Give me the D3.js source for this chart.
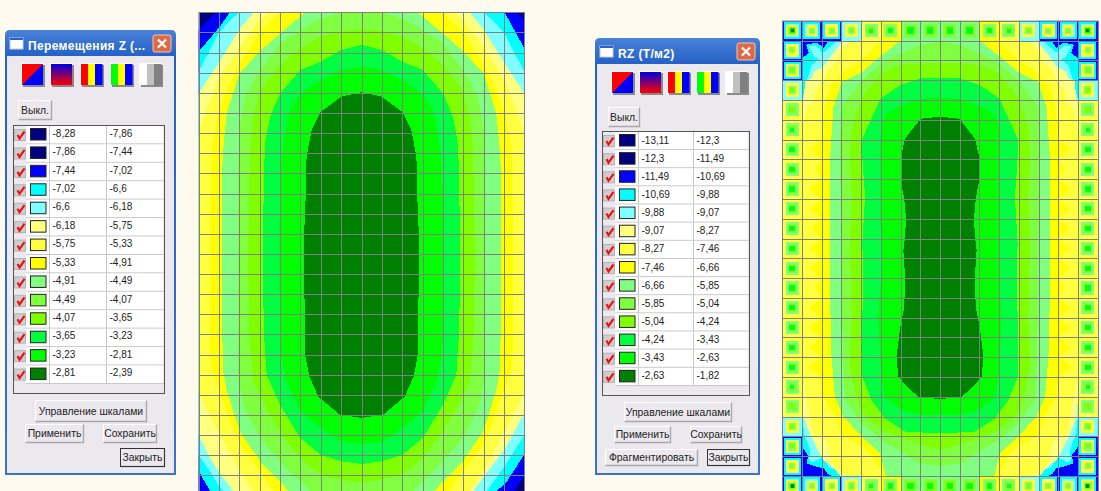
<!DOCTYPE html>
<html>
<head>
<meta charset="utf-8">
<script src="https://cdn.jsdelivr.net/npm/d3@7"></script>
<style>
  html, body { margin: 0; padding: 0; background: #fffaee; overflow: hidden; }
  svg { display: block; }
  text { font-family: "Liberation Sans", Arial, sans-serif; }
</style>
</head>
<body>
<div id="chart-area"></div>
<script>
// legend colours, level 1 (lowest) to level 14 (highest)
const levelColours = ["#000080", "#000080", "#0000ff", "#00ffff", "#80ffff", "#ffff80", "#ffff40",
                      "#ffff00", "#80ff80", "#80ff40", "#80ff00", "#00ff40", "#00ff00", "#008000"];

const zFrom = ["-8,28", "-7,86", "-7,44", "-7,02", "-6,6", "-6,18", "-5,75", "-5,33", "-4,91", "-4,49", "-4,07", "-3,65", "-3,23", "-2,81"];
const zTo   = ["-7,86", "-7,44", "-7,02", "-6,6", "-6,18", "-5,75", "-5,33", "-4,91", "-4,49", "-4,07", "-3,65", "-3,23", "-2,81", "-2,39"];
const rzFrom = ["-13,11", "-12,3", "-11,49", "-10,69", "-9,88", "-9,07", "-8,27", "-7,46", "-6,66", "-5,85", "-5,04", "-4,24", "-3,43", "-2,63"];
const rzTo   = ["-12,3", "-11,49", "-10,69", "-9,88", "-9,07", "-8,27", "-7,46", "-6,66", "-5,85", "-5,04", "-4,24", "-3,43", "-2,63", "-1,82"];

// left half of each contour, in plate cells [col, row], mirrored over col 8 when drawn
const zLevels = [3, 4, 5, 6, 7, 8, 9, 10, 11, 12, 13, 14];
const zOutlines = [
  [[8,-1],[1.7,-1],[.85,0],[0,.85],[-1,1.7],[-1,23],[0,24.2],[.6,25],[8,26]],
  [[8,-1],[2.5,-1],[1.54,0],[.97,.8],[0,1.95],[-1,3],[-1,21.8],[0,22.8],[.56,23.77],[1,25],[8,26]],
  [[8,-1],[3,-1],[2,0],[1.54,.4],[.97,1.04],[0,2.95],[-1,4.5],[-1,21],[0,22],[.56,22.8],[.97,23.5],[1.21,23.77],[2,25],[8,26]],
  [[8,-1],[3.7,-1],[2.69,0],[2.03,.8],[.97,2.53],[0,4.02],[-1,5.5],[-1,20],[0,21],[.56,22.15],[.97,22.8],[1.7,23.77],[2.5,25],[8,26]],
  [[8,-1],[3.9,-.5],[3.43,0],[2.98,.4],[2.03,1.7],[.97,3.36],[.39,4.85],[0,5.93],[-.5,6.5],[-.5,18.4],[0,18.9],[.56,20],[.97,20.83],[2.03,22.8],[2.69,23.77],[3.5,25],[8,26]],
  [[8,-1],[4.6,-1],[4.03,0],[3.02,.96],[2.03,2.53],[1.38,3.86],[.97,5],[.69,6.4],[.59,7.67],[.56,12],[.56,16.7],[.64,17.7],[.97,18.7],[1.54,20.3],[2.03,21.5],[3.02,22.8],[3.67,23.77],[4.5,25],[8,26]],
  [[8,-1],[5.8,-1],[5.23,0],[4,1.05],[3,1.95],[2,3.03],[1.38,5],[1.23,6.5],[1.16,7.7],[1.16,16],[1.21,17.85],[1.38,18.8],[2.03,20.83],[3.02,22.3],[4,23.3],[4.41,23.77],[5.3,25],[8,26]],
  [[8,-.2],[7,0],[6,.3],[5,.88],[4,1.54],[3.02,2.86],[2.28,4.19],[2,5.68],[1.95,7.17],[1.95,12],[1.95,18.18],[2.2,19.5],[3.02,21.16],[4,22.3],[5,23.3],[5.5,23.8],[6.5,24.5],[8,24.6]],
  [[8,.84],[7,.93],[6,1.21],[5,1.79],[4,2.62],[3.02,3.86],[2.69,5.18],[2.52,6.84],[2.49,8.33],[2.44,11.56],[2.44,13],[2.49,16],[2.69,18.35],[3.51,20],[4,20.83],[5,22.15],[6,22.98],[7,23.2],[8,23.35]],
  [[8,1.62],[7,1.87],[6,2.45],[5,2.86],[4,4.02],[3.51,5.18],[3.26,6.5],[3.21,8],[3.15,11.56],[3.15,13],[3.21,16],[3.34,18],[4,19.5],[5,21.16],[6,21.98],[7,22.3],[8,22.43]],
  [[8,2.7],[7,2.86],[6,3.36],[5,4.02],[4.49,4.85],[4.25,6.01],[4.1,7],[4.03,8.33],[3.95,11],[3.95,13],[4.03,17],[4.25,18.18],[5,19.83],[6,20.66],[7,21.33],[8,21.44]],
  [[8,3.97],[7,4.19],[6,4.94],[5.55,5.85],[5.3,7.17],[5.28,8.33],[5.23,9.99],[5.15,11.56],[5.15,13],[5.23,15],[5.23,17],[5.44,18.1],[5.88,19.1],[6.95,20],[8,20.14]]
];
// corners of the Z plate that are not mirror images of the left side
const zPatchLevels = [4, 3, 1, 5, 4, 3, 1];
const zPatches = [
  [[14.46,0],[15.03,.8],[16,1.95],[17,2],[17,-1],[14.46,-1]],
  [[15.03,0],[16,1.79],[17,2],[17,-1],[15.03,-1]],
  [[15.65,0],[16,.4],[17,.4],[17,-1],[15.65,-1]],
  [[16,19.92],[15.07,21.65],[13.5,23.77],[13,25],[17,25],[17,19.92]],
  [[16,21],[15.07,22.5],[14.16,23.77],[14,25],[17,25],[17,21]],
  [[16,21.96],[15.15,23.3],[14.66,23.77],[14.5,25],[17,25],[17,21.96]],
  [[16,23],[15.5,23.77],[15.2,25],[17,25],[17,23]]
];

const rzLevels = [4, 5, 6, 7, 8, 9, 10, 11, 12, 13, 14];
const rzOutlines = [
  [[8,-1],[2.36,-1],[2.36,1],[2.1,1.38],[1.76,1.1],[1.2,1.21],[1.34,1.63],[1.03,1.88],[.5,2],[-1,2],[-1,21.5],[1,21.5],[1.3,21.94],[1.25,22.36],[1.85,22.56],[2.1,22.6],[2.27,22.86],[2.52,23],[2.52,25],[8,26]],
  [[8,-1],[2.78,-1],[2.78,1],[2.18,1.55],[2.01,1.58],[1.68,1.24],[1.34,1.29],[1.59,1.8],[1.85,1.97],[1.51,2.22],[1.25,2.98],[1.03,3.9],[-1,3.9],[-1,20],[1,20],[1.12,20.9],[1.3,21.4],[1.42,21.77],[1.34,22.19],[1.55,22.3],[2,22.05],[2.1,22.1],[2.35,22.55],[2.9,22.75],[3.1,23],[3.1,25],[8,26]],
  [[8,-1],[3.1,-1],[3.1,1],[2.52,1.72],[2.01,2.39],[1.59,2.56],[1.51,2.9],[1.17,3.06],[1.08,3.9],[1,4.07],[-1,4.07],[-1,19],[1,19],[1.07,20],[1.42,20.93],[1.68,21.43],[1.93,21.94],[2.1,22.2],[2.52,22.5],[2.95,23],[3,25],[8,26]],
  [[8,-1],[3.54,-1],[3.54,1],[2.95,1.55],[2.78,2.05],[2.27,2.56],[2.1,2.98],[1.68,3.57],[1.51,4.16],[1.25,4.4],[1.1,5],[1,5.9],[-1,5.9],[-1,18],[1,18],[1.32,19.5],[1.57,20.93],[2.08,20.93],[2.42,21.68],[2.5,22.36],[3,22.86],[3.43,23],[3.6,25],[8,26]],
  [[8,-1],[5.4,-1],[5.4,0],[5,.98],[4.03,2],[3.01,2.65],[2.5,3.2],[2.2,4.1],[2,5.35],[2,6],[1.4,6.5],[2,7],[1.7,7.5],[2,8],[1.35,8.5],[2,9],[1.4,9.5],[2,10],[1.45,10.5],[2,11],[1.4,11.5],[2,12],[1.4,12.5],[2,13],[1.7,13.5],[2,14],[1.35,14.5],[2,15],[1.35,15.5],[2,16],[1.35,16.5],[2,17],[1.3,17.5],[2,18],[2.08,18.99],[2.59,19.83],[3,20.9],[4.03,21.5],[4.53,22],[5.04,22.86],[5.3,24],[5.3,25],[8,26]],
  [[8,-1],[6.5,-1],[6.5,.5],[6,.98],[5,1.8],[4.03,2.6],[3.01,3.1],[2.6,4.34],[2.42,6.95],[2.42,11],[2.42,13],[2.47,16.6],[2.67,18.99],[3.1,20],[4.03,21],[4.96,21.85],[5.21,22.86],[5.3,23.2],[5.4,25],[8,26]],
  [[8,1.06],[7.02,1.23],[6,1.65],[5,2.15],[4.03,3],[3.01,4.34],[2.93,6.2],[2.96,8.89],[3.01,11.25],[3.01,13.94],[3.1,17.47],[3.18,19.16],[4.03,20.33],[5.04,21.18],[5.89,21.68],[6.9,22.36],[8,22.5]],
  [[8,2.15],[7.02,2.15],[6,2.24],[5,2.66],[4.03,3.92],[3.52,5.35],[3.43,6.95],[3.52,8.89],[3.43,11.25],[3.52,14.95],[3.43,17.47],[3.77,18.99],[4.03,19.83],[5.04,20.67],[6.06,21.09],[8,21.68]],
  [[8,2.91],[7.02,2.91],[6,3.25],[5,3.92],[4.53,4.93],[4.06,5.94],[4.06,6.95],[4.2,8.9],[4.06,11.25],[4.11,13.27],[4.03,15.96],[4.06,17.98],[4.53,19.16],[5.21,20.08],[6.23,20.76],[8,20.84]],
  [[8,3.87],[7.02,3.95],[6,4.3],[5.3,4.7],[5,5.3],[4.95,7],[4.95,9],[5,11.2],[5,13],[4.87,15],[5,17.8],[5.2,19],[6.05,19.66],[7.02,19.9],[8,19.9]],
  [[8,4.85],[7.02,4.95],[6.23,5.94],[6,6.95],[6,7.96],[6.19,9.06],[6.28,10.07],[6.19,11.25],[6.14,11.58],[6.23,12.93],[6.19,14.44],[6.02,15.28],[5.92,15.96],[5.8,16.97],[5.88,17.98],[6.4,18.57],[6.9,18.99],[8,19.12]]
];

// concentric squares in the edge cells of the RZ plate, outside to centre
const rzTopRings = [
  [3,4,5,7,8,9,11,13,14], [3,4,5,7,8,9,10], [3,4,6,7,8,9,10], [5,7,8,9,10,11],
  [7,9,10,11,12], [8,9,10,11,12,13], [9,10,11,12,13], [9,10,11,12,13]
];
const rzSideRings = [
  [3,4,5,7,8,9,11,13,14], [3,4,6,7,8,9,10], [3,4,6,8,9,10,11], [5,7,8,9,10,11],
  [7,9,10,11], [7,9,10,11,12], [7,9,10,11,12,13], [7,9,10,11,12,13],
  [7,9,10,11,12,13], [7,9,10,11,12,13], [7,9,10,11,12,13], [7,9,10,11,12,13]
];

const width = 1101, height = 491;
const svg = d3.select("#chart-area").append("svg")
  .attr("width", width).attr("height", height);

const line = d3.line();
const mirror = pts => pts.concat(pts.slice().reverse().map(p => [16 - p[0], p[1]]));

function plate(id, x0, x1, y0, y1) {
  const x = d3.scaleLinear().domain([0, 16]).range([x0, x1]);
  const y = d3.scaleLinear().domain([0, 24]).range([y0, y1]);
  svg.append("clipPath").attr("id", id).append("rect")
    .attr("x", x0).attr("y", y0).attr("width", x1 - x0).attr("height", y1 - y0);
  const g = svg.append("g").attr("clip-path", `url(#${id})`);
  line.x(d => x(d[0])).y(d => y(d[1]));
  return {x, y, g, path: pts => line(pts) + "Z"};
}

function grid(p) {
  svg.append("g").selectAll("line").data(d3.range(17)).join("line")
    .attr("x1", d => Math.round(p.x(d)) + .5).attr("x2", d => Math.round(p.x(d)) + .5)
    .attr("y1", p.y(0)).attr("y2", height)
    .attr("stroke", "#808080");
  svg.append("g").selectAll("line").data(d3.range(25)).join("line")
    .attr("y1", d => Math.round(p.y(d)) + .5).attr("y2", d => Math.round(p.y(d)) + .5)
    .attr("x1", p.x(0)).attr("x2", p.x(16))
    .attr("stroke", "#808080");
}

// Z plate
const zp = plate("clip-z", 198.7, 524.3, 12.3, 495.5);
zp.g.append("rect").attr("x", 190).attr("y", 0).attr("width", 345).attr("height", 500)
  .attr("fill", levelColours[0]);
zp.g.selectAll(".band").data(zOutlines).join("path").attr("class", "band")
  .attr("d", d => zp.path(mirror(d)))
  .attr("fill", (d, i) => levelColours[zLevels[i] - 1])
  .attr("shape-rendering", "crispEdges");
zp.g.append("g").selectAll("path").data(zPatches).join("path")
  .attr("d", d => zp.path(d))
  .attr("fill", (d, i) => levelColours[zPatchLevels[i] - 1])
  .attr("shape-rendering", "crispEdges");
grid(zp);

// RZ plate
const rp = plate("clip-rz", 782.3, 1097.7, 20.7, 495.9);
rp.g.append("rect").attr("x", 775).attr("y", 0).attr("width", 330).attr("height", 500)
  .attr("fill", levelColours[2]);
rp.g.selectAll(".band").data(rzOutlines).join("path").attr("class", "band")
  .attr("d", d => rp.path(mirror(d)))
  .attr("fill", (d, i) => levelColours[rzLevels[i] - 1])
  .attr("shape-rendering", "crispEdges");

const edgeCells = [];
d3.range(16).forEach(c => {
  const rings = rzTopRings[c < 8 ? c : 15 - c];
  edgeCells.push({c, r: 0, rings}, {c, r: 23, rings});
});
d3.range(1, 23).forEach(r => {
  const rings = rzSideRings[r < 12 ? r : 23 - r];
  edgeCells.push({c: 0, r, rings}, {c: 15, r, rings});
});
// the second ring is wider than the inner ones
function ringInset(i, n) {
  if (i === 0) return 0;
  const first = n >= 7 ? .07 : .17;
  if (i === 1) return first;
  return first + .1 + (i - 2) * (.46 - first - .1) / Math.max(n - 2, 1);
}
rp.g.selectAll(".cell").data(edgeCells).join("g").attr("class", "cell")
  .selectAll("rect").data(d => d.rings.map((lv, i) => ({lv, c: d.c, r: d.r, inset: ringInset(i, d.rings.length)})))
  .join("rect")
    .attr("x", d => rp.x(d.c + d.inset))
    .attr("y", d => rp.y(d.r + d.inset))
    .attr("width", d => rp.x(d.c + 1 - d.inset) - rp.x(d.c + d.inset))
    .attr("height", d => rp.y(d.r + 1 - d.inset) - rp.y(d.r + d.inset))
    .attr("fill", d => levelColours[d.lv - 1])
    .attr("shape-rendering", "crispEdges");
grid(rp);

// dialog windows
function button(g, x0, y0, x1, y1, label, isDefault) {
  const b = g.append("g").attr("transform", `translate(${x0},${y0})`);
  const w = x1 - x0, h = y1 - y0;
  b.append("rect").attr("width", w).attr("height", h).attr("fill", "#ebe9ed").attr("shape-rendering", "crispEdges");
  b.append("path").attr("d", `M.5 ${h - .5}V.5H${w - .5}`).attr("fill", "none").attr("stroke", "#fff");
  b.append("path").attr("d", `M.5 ${h - .5}H${w - .5}V.5`).attr("fill", "none").attr("stroke", "#a9a8ac").attr("stroke-width", 1.4);
  if (isDefault) b.append("rect").attr("x", .5).attr("y", .5).attr("width", w - 1).attr("height", h - 1)
    .attr("fill", "none").attr("stroke", "#333");
  if (label) b.append("text").attr("x", w / 2).attr("y", h / 2 + 3.5).attr("text-anchor", "middle")
    .attr("font-size", 10.4).attr("fill", "#222").text(label);
  return b;
}

function toolIcon(g, x0, y0, kind) {
  const s = 21, b = g.append("g").attr("transform", `translate(${x0},${y0})`);
  b.append("rect").attr("x", -1).attr("y", -1).attr("width", s + 2).attr("height", s + 2).attr("fill", "#fff");
  b.append("rect").attr("x", 1).attr("y", 1).attr("width", s + 1).attr("height", s + 1).attr("fill", "#8a8a8a");
  if (kind === 0) {
    b.append("rect").attr("width", s).attr("height", s).attr("fill", "#0000ff");
    b.append("path").attr("d", `M0 0H${s}L0 ${s}Z`).attr("fill", "#ff0000");
  } else if (kind === 1) {
    b.append("rect").attr("width", s).attr("height", s).attr("fill", "url(#blue-red)");
  } else {
    const stripes = {2: ["#ff0000", "#ffff00", "#0000ff"], 3: ["#00ff00", "#ffff00", "#0000ff"], 4: ["#ffffff", "#c0c0c0", "#808080"]}[kind];
    b.selectAll(".s").data(stripes).join("rect").attr("class", "s")
      .attr("x", (d, i) => i * s / 3).attr("width", s / 3 + .5).attr("height", s).attr("fill", d => d);
  }
}

const defs = svg.append("defs");
const grad = defs.append("linearGradient").attr("id", "blue-red").attr("x1", 0).attr("x2", 0).attr("y1", 0).attr("y2", 1);
grad.append("stop").attr("offset", "0%").attr("stop-color", "#0000e0");
grad.append("stop").attr("offset", "100%").attr("stop-color", "#ff0000");
const titleGrad = defs.append("linearGradient").attr("id", "title-bar").attr("x1", 0).attr("x2", 0).attr("y1", 0).attr("y2", 1);
titleGrad.append("stop").attr("offset", "0%").attr("stop-color", "#4a82d8");
titleGrad.append("stop").attr("offset", "6%").attr("stop-color", "#2460c6");
titleGrad.append("stop").attr("offset", "100%").attr("stop-color", "#3a72d0");

function dialog(o) {
  const g = svg.append("g");
  g.append("path")
    .attr("d", `M${o.x0} ${o.y1}V${o.y0 + 5}Q${o.x0} ${o.y0} ${o.x0 + 5} ${o.y0}H${o.x1 - 5}Q${o.x1} ${o.y0} ${o.x1} ${o.y0 + 5}V${o.y1}Z`)
    .attr("fill", "url(#title-bar)");
  g.append("rect").attr("x", o.x0 + 2).attr("y", o.y0 + 26).attr("width", o.x1 - o.x0 - 4).attr("height", o.y1 - o.y0 - 28)
    .attr("fill", "#ebe9ed").attr("shape-rendering", "crispEdges");

  // title bar
  g.append("rect").attr("x", o.x0 + 5).attr("y", o.y0 + 8).attr("width", 13).attr("height", 11).attr("fill", "#fff").attr("stroke", "#bcd0ee");
  g.append("rect").attr("x", o.x0 + 5).attr("y", o.y0 + 8).attr("width", 13).attr("height", 2).attr("fill", "#2a62c6");
  g.append("text").attr("x", o.titleX).attr("y", o.y0 + 19.5).attr("fill", "#fff")
    .attr("font-size", 12).attr("font-weight", "bold").attr("letter-spacing", o.titleSpacing).text(o.title);
  const cx = o.x1 - 14, cy = o.y0 + 14;
  g.append("rect").attr("x", cx - 9).attr("y", cy - 9).attr("width", 18).attr("height", 17).attr("rx", 2)
    .attr("fill", "#dd6a45").attr("stroke", "#f0c8b8");
  g.append("path").attr("d", `M${cx - 4} ${cy - 4.5}L${cx + 4} ${cy + 3.5}M${cx + 4} ${cy - 4.5}L${cx - 4} ${cy + 3.5}`)
    .attr("stroke", "#fff").attr("stroke-width", 2.2);

  o.iconX.forEach((x, i) => toolIcon(g, x, o.iconY, i));
  button(g, o.offBtn[0], o.offBtn[1], o.offBtn[2], o.offBtn[3], "Выкл.");

  // level table
  const t = o.table;
  g.append("rect").attr("x", t.x0 + .5).attr("y", t.y0 + .5).attr("width", t.x1 - t.x0).attr("height", t.y1 - t.y0)
    .attr("fill", "#ebe9ed").attr("stroke", "#555");
  const rowY = d3.scaleLinear().domain([0, 14]).range([t.y0 + 1, t.rowsEnd]);
  const rows = g.selectAll(".row").data(o.from.map((d, i) => ({from: d, to: o.to[i], colour: levelColours[i], i})))
    .join("g").attr("class", "row").attr("transform", d => `translate(0,${rowY(d.i)})`);
  const rh = rowY(1) - rowY(0);
  rows.append("rect").attr("x", t.sw - 4).attr("width", t.x1 - t.sw + 4 - 1).attr("height", rh - 1).attr("fill", "#fff");
  rows.append("rect").attr("x", t.x0 + 1.5).attr("y", 3.5).attr("width", 11).attr("height", 11)
    .attr("fill", "#cfcdd0").attr("stroke", "#b4b2b4");
  rows.append("path").attr("d", `M${t.x0 + 4.5} 9L${t.x0 + 6.5} 12.5L${t.x0 + 11.5} 5.5`).attr("fill", "none")
    .attr("stroke", "#ee1111").attr("stroke-width", 2.2);
  rows.append("rect").attr("x", t.sw + .5).attr("y", 2.5).attr("width", 15.5).attr("height", 11.5)
    .attr("fill", d => d.colour).attr("stroke", "#222");
  rows.append("line").attr("x1", t.sw - 4).attr("x2", t.x1).attr("y1", rh - .5).attr("y2", rh - .5).attr("stroke", "#c8c8c8");
  [t.c1, t.c2].forEach(cx => rows.append("line").attr("x1", cx + .5).attr("x2", cx + .5).attr("y1", 0).attr("y2", rh).attr("stroke", "#c8c8c8"));
  rows.append("text").attr("x", t.c1 + 3.5).attr("y", t.textDy).attr("font-size", 10).attr("fill", "#222").text(d => d.from);
  rows.append("text").attr("x", t.c2 + 3.5).attr("y", t.textDy).attr("font-size", 10).attr("fill", "#222").text(d => d.to);

  o.buttons.forEach(b => button(g, b[0], b[1], b[2], b[3], b[4], b[5]));
}

dialog({
  x0: 5, x1: 176, y0: 30, y1: 475,
  title: "Перемещения Z (...", titleX: 28, titleSpacing: .35,
  iconX: [22, 51, 81, 111, 140], iconY: 64,
  offBtn: [18, 100, 52, 120],
  table: {x0: 13, x1: 164, y0: 125, y1: 393, rowsEnd: 384, sw: 30, c1: 49, c2: 106, textDy: 10.7},
  from: zFrom, to: zTo,
  buttons: [[35, 400, 147, 422, "Управление шкалами"], [25, 424, 84, 443, "Применить"],
            [103, 424, 157, 443, "Сохранить"], [120, 448, 165, 467, "Закрыть", true]]
});
dialog({
  x0: 595, x1: 760, y0: 38, y1: 475,
  title: "RZ (Т/м2)", titleX: 618, titleSpacing: .35,
  iconX: [612, 640, 668, 697, 726], iconY: 72,
  offBtn: [608, 107, 640, 127],
  table: {x0: 602, x1: 749, y0: 131, y1: 395, rowsEnd: 386, sw: 619, c1: 638, c2: 693, textDy: 11.5},
  from: rzFrom, to: rzTo,
  buttons: [[624, 402, 732, 422, "Управление шкалами"], [614, 426, 671, 443, "Применить"],
            [690, 426, 742, 443, "Сохранить"], [605, 449, 698, 466, "Фрагментировать"],
            [707, 449, 750, 466, "Закрыть", true]]
});
</script>
</body>
</html>
